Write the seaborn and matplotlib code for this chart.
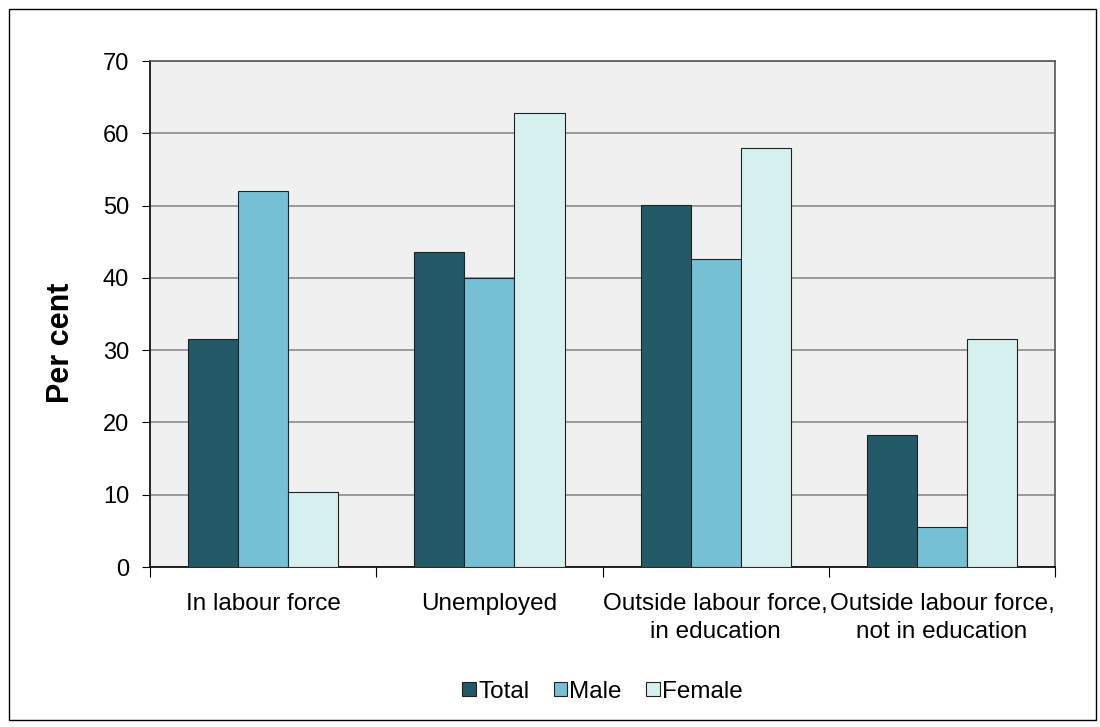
import numpy as np
import pandas as pd
import seaborn as sns
import matplotlib.pyplot as plt
from matplotlib.patches import Rectangle

categories = ["In labour force", "Unemployed",
              "Outside labour force,\nin education",
              "Outside labour force,\nnot in education"]
series = ["Total", "Male", "Female"]
total = [31.5, 43.6, 50.1, 18.3]
male = [52.0, 40.0, 42.6, 5.5]
female = [10.4, 62.8, 58.0, 31.6]
colors = ["#225A68", "#75C0D4", "#D6F0F0"]

df = pd.DataFrame({"category": categories * 3,
                   "series": [s for s in series for _ in categories],
                   "value": total + male + female})

sns.set_style("white")
plt.rcParams["font.family"] = ["Liberation Sans", "DejaVu Sans"]
plt.rcParams["text.color"] = "black"
plt.rcParams["xtick.color"] = "black"
plt.rcParams["ytick.color"] = "black"
plt.rcParams["axes.labelcolor"] = "black"

fig = plt.figure(figsize=(11, 7.27), dpi=100)
ax = fig.add_axes([0.1364, 0.22, 0.8227, 0.696])
ax.set_facecolor("#F0F0F0")

sns.barplot(data=df, x="category", y="value", hue="series", palette=colors,
            saturation=1, width=0.664, gap=0, edgecolor="#222222", linewidth=0.8,
            ax=ax)
for p in ax.patches:
    p.set_zorder(3)

ax.set_ylim(0, 70)
ax.set_xlim(-0.5, 3.5)
ax.set_yticks(range(0, 71, 10))
ax.yaxis.grid(True, color="#8C8C8C", linewidth=1.2, zorder=0)
ax.set_axisbelow(True)
ax.tick_params(axis="y", labelsize=17, length=6, direction="out", left=True, pad=9)

ax.set_xticks(np.arange(-0.5, 4, 1))
ax.set_xticklabels([])
ax.set_xticks(range(4), minor=True)
ax.set_xticklabels(categories, minor=True, fontsize=17.5, linespacing=1.3)
ax.tick_params(axis="x", which="major", length=7, bottom=True)
ax.tick_params(axis="x", which="minor", length=0, pad=19)

ax.set_xlabel("")
ax.set_ylabel("Per cent", fontsize=22, fontweight="bold")
ax.yaxis.set_label_coords(-0.082, 0.443)

for side in ["top", "right"]:
    ax.spines[side].set_color("#555555")
    ax.spines[side].set_linewidth(1.2)
for side in ["left", "bottom"]:
    ax.spines[side].set_color("black")
    ax.spines[side].set_linewidth(1.2)

ax.legend(loc="upper center", bbox_to_anchor=(0.5, -0.205), ncol=3, frameon=False,
          fontsize=17.5, handlelength=0.55, handleheight=0.55, handletextpad=0.1,
          columnspacing=1.0, borderaxespad=0)

fig.patches.append(Rectangle((0.008, 0.01), 0.988, 0.978, transform=fig.transFigure,
                             fill=False, edgecolor="black", linewidth=1))

fig.savefig("out.png", dpi=100)
